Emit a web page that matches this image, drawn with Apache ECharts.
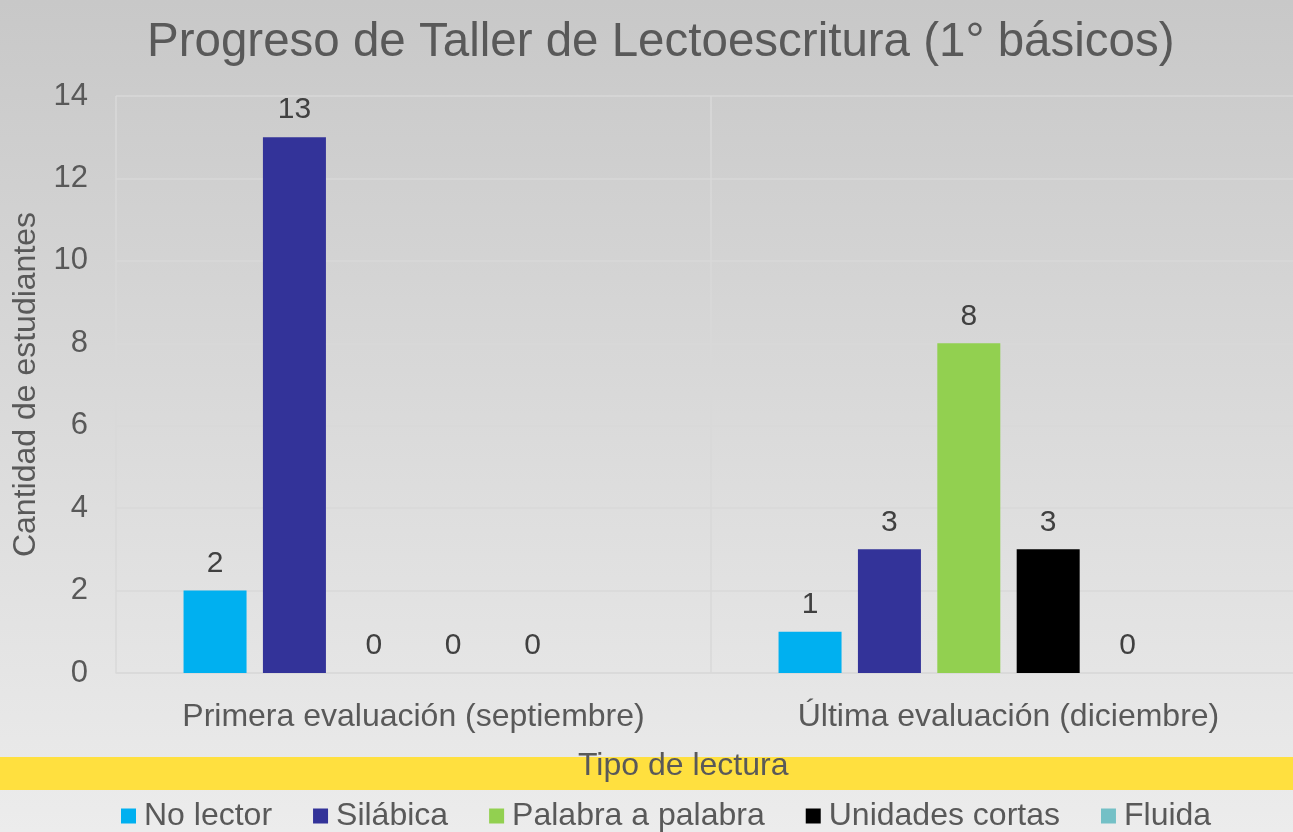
<!DOCTYPE html>
<html>
<head>
<meta charset="utf-8">
<script src="https://cdn.jsdelivr.net/npm/echarts@6/dist/echarts.min.js"></script>
<style>
  html, body { margin:0; padding:0; }
  #chart { width:1293px; height:832px; }
</style>
</head>
<body>
<div id="chart"></div>
<script>
const categories = ['Primera evaluación (septiembre)', 'Última evaluación (diciembre)']
const seriesNames = ['No lector', 'Silábica', 'Palabra a palabra', 'Unidades cortas', 'Fluida']
const noLector = [2, 1]
const silabica = [13, 3]
const palabraAPalabra = [0, 8]
const unidadesCortas = [0, 3]
const fluida = [0, 0]
const emptySlot = [null, null]
const yTicks = { min: 0, max: 14, interval: 2 }

const colors = ['#00b0f0', '#333399', '#92d050', '#000000', '#74c0c6']
const font = 'Liberation Sans, Arial, sans-serif'
const textColor = '#595959'

const chart = echarts.init(document.getElementById('chart'))

const makeSeries = (name, data, color) => ({
  name,
  type: 'bar',
  data,
  barWidth: 63,
  barGap: '26%',
  itemStyle: { color },
  label: { show: true, position: 'top', distance: 12, fontFamily: font, fontSize: 30, color: '#404040' }
})

chart.setOption({
  backgroundColor: new echarts.graphic.LinearGradient(0, 0, 0, 1, [
    { offset: 0, color: '#c8c8c8' },
    { offset: 1, color: '#ececec' }
  ]),
  title: {
    text: 'Progreso de Taller de Lectoescritura (1° básicos)',
    left: 142,
    top: 14,
    textStyle: { fontFamily: font, fontSize: 47.5, fontWeight: 'normal', color: textColor }
  },
  graphic: [
    { type: 'rect', left: 0, top: 757, shape: { width: 1293, height: 33 }, style: { fill: '#ffe03f' }, z: 0 },
    { type: 'text', left: 578, top: 750, style: { text: 'Tipo de lectura', fontFamily: font, fontSize: 32, fill: textColor }, z: 1 }
  ],
  legend: {
    data: seriesNames,
    bottom: -5,
    left: 116,
    itemWidth: 15,
    itemHeight: 15,
    itemGap: 41,
    icon: 'rect',
    textStyle: { fontFamily: font, fontSize: 32, color: textColor, padding: [0, 0, 0, 3] }
  },
  grid: { left: 116, right: -13, top: 96, bottom: 159, outerBoundsMode: 'none' },
  xAxis: {
    type: 'category',
    data: categories,
    axisLine: { show: true, lineStyle: { color: '#d9d9d9', width: 1.5 } },
    axisTick: { show: false },
    axisLabel: { interval: 0, fontFamily: font, fontSize: 32, color: textColor, margin: 28 },
    splitLine: { show: true, interval: 0, lineStyle: { color: '#d9d9d9', width: 1.5 } }
  },
  yAxis: {
    type: 'value',
    min: yTicks.min,
    max: yTicks.max,
    interval: yTicks.interval,
    name: 'Cantidad de estudiantes',
    nameLocation: 'middle',
    nameGap: 72,
    nameTextStyle: { fontFamily: font, fontSize: 32, color: textColor },
    axisLine: { show: false },
    axisTick: { show: false },
    axisLabel: { fontFamily: font, fontSize: 31, color: textColor, margin: 28 },
    splitLine: { lineStyle: { color: '#d9d9d9', width: 1.5 } }
  },
  series: [
    makeSeries(seriesNames[0], noLector, colors[0]),
    makeSeries(seriesNames[1], silabica, colors[1]),
    makeSeries(seriesNames[2], palabraAPalabra, colors[2]),
    makeSeries(seriesNames[3], unidadesCortas, colors[3]),
    makeSeries(seriesNames[4], fluida, colors[4]),
    { name: '', type: 'bar', data: emptySlot, barWidth: 63, barGap: '26%', label: { show: false } }
  ]
})
</script>
</body>
</html>
